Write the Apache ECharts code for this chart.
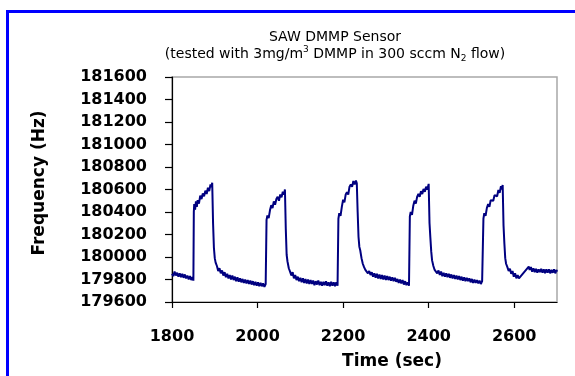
<!DOCTYPE html>
<html>
<head>
<meta charset="utf-8">
<script src="https://cdn.jsdelivr.net/npm/echarts@6/dist/echarts.min.js"></script>
<style>html,body{margin:0;padding:0;background:#fff;}#c{width:575px;height:376px;}</style>
</head>
<body>
<div id="c"></div>
<script>
const titleLine1 = 'SAW DMMP Sensor';
const titleLine2 = '(tested with 3mg/m{sup|3} DMMP in 300 sccm N{sub|2} flow)';
const xAxisName = 'Time (sec)';
const yAxisName = 'Frequency (Hz)';
const xTicks = [1800, 2000, 2200, 2400, 2600];
const yTicks = [179600, 179800, 180000, 180200, 180400, 180600, 180800, 181000, 181200, 181400, 181600];

// [time (sec), frequency (Hz)]
const baseline0 = [[1800,179850],[1803,179830],[1806,179870],[1809,179835],[1812,179860],[1815,179825],[1818,179855],[1821,179820],[1824,179850],[1827,179815],[1830,179845],[1833,179810],[1836,179835],[1839,179800],[1842,179830],[1845,179795],[1848,179820],[1850,179790]];
const pulse1 = [[1851,180400],[1852,180470],[1854,180420],[1856,180495],[1858,180445],[1860,180505],[1863,180475],[1866,180545],[1869,180515],[1872,180565],[1875,180540],[1878,180590],[1881,180560],[1884,180615],[1887,180585],[1890,180645],[1892,180620],[1894,180660]];
const decay1 = [[1896,180300],[1898,180080],[1900,179990],[1902,179950],[1905,179920],[1908,179875],[1911,179900],[1914,179855],[1917,179880],[1920,179835],[1923,179865],[1926,179820],[1929,179850],[1932,179810],[1935,179840],[1938,179800],[1941,179835],[1944,179795],[1947,179825],[1950,179785],[1953,179820],[1956,179780],[1959,179810],[1962,179775],[1965,179805],[1968,179770],[1971,179800],[1974,179765],[1977,179795],[1980,179760],[1983,179790],[1986,179755],[1989,179785],[1992,179750],[1995,179780],[1998,179745],[2001,179775],[2004,179740],[2007,179770],[2010,179740],[2013,179765],[2016,179735],[2019,179760]];
const pulse2 = [[2021,180330],[2023,180370],[2026,180345],[2029,180415],[2032,180460],[2035,180435],[2038,180495],[2041,180465],[2044,180515],[2047,180535],[2050,180500],[2053,180555],[2056,180530],[2059,180580],[2062,180555],[2064,180600]];
const decay2 = [[2066,180250],[2068,180020],[2070,179960],[2073,179900],[2076,179870],[2079,179835],[2082,179865],[2085,179810],[2088,179840],[2091,179795],[2094,179825],[2097,179785],[2100,179815],[2103,179775],[2106,179810],[2109,179770],[2112,179805],[2115,179765],[2118,179800],[2121,179760],[2124,179795],[2127,179760],[2130,179790],[2133,179750],[2136,179785],[2139,179755],[2142,179790],[2145,179750],[2148,179780],[2151,179745],[2154,179780],[2157,179750],[2160,179785],[2163,179745],[2166,179775],[2169,179740],[2172,179780],[2175,179745],[2178,179775],[2181,179740],[2184,179775],[2187,179745]];
const pulse3 = [[2189,180340],[2191,180390],[2194,180365],[2197,180445],[2200,180510],[2203,180485],[2206,180555],[2209,180575],[2212,180555],[2215,180625],[2218,180645],[2221,180625],[2224,180675],[2227,180645],[2230,180680],[2232,180655]];
const decay3 = [[2234,180400],[2236,180180],[2238,180090],[2240,180060],[2243,179990],[2246,179940],[2249,179910],[2252,179885],[2255,179870],[2258,179855],[2261,179875],[2264,179840],[2267,179865],[2270,179825],[2273,179855],[2276,179815],[2279,179850],[2282,179810],[2285,179845],[2288,179805],[2291,179840],[2294,179800],[2297,179835],[2300,179795],[2303,179830],[2306,179795],[2309,179825],[2312,179790],[2315,179820],[2318,179785],[2321,179815],[2324,179780],[2327,179805],[2330,179770],[2333,179800],[2336,179765],[2339,179795],[2342,179755],[2345,179785],[2348,179750],[2351,179775],[2354,179745]];
const pulse4 = [[2356,180360],[2358,180400],[2361,180375],[2364,180455],[2367,180500],[2370,180475],[2373,180535],[2376,180560],[2379,180535],[2382,180585],[2385,180560],[2388,180605],[2391,180580],[2394,180625],[2397,180600],[2400,180650]];
const decay4 = [[2402,180300],[2404,180170],[2406,180050],[2408,179970],[2411,179920],[2414,179885],[2417,179880],[2420,179855],[2423,179880],[2426,179840],[2429,179870],[2432,179830],[2435,179860],[2438,179825],[2441,179855],[2444,179820],[2447,179850],[2450,179815],[2453,179845],[2456,179810],[2459,179840],[2462,179805],[2465,179835],[2468,179800],[2471,179830],[2474,179795],[2477,179825],[2480,179790],[2483,179820],[2486,179785],[2489,179815],[2492,179785],[2495,179810],[2498,179775],[2501,179805],[2504,179770],[2507,179800],[2510,179770],[2513,179795],[2516,179765],[2519,179790],[2522,179760],[2525,179785]];
const pulse5 = [[2528,180340],[2530,180390],[2533,180365],[2536,180435],[2539,180470],[2542,180445],[2545,180505],[2548,180520],[2551,180500],[2554,180550],[2557,180560],[2560,180540],[2563,180595],[2566,180570],[2569,180630],[2571,180600],[2573,180640]];
const decay5 = [[2575,180280],[2577,180120],[2579,179990],[2581,179940],[2584,179910],[2587,179875],[2590,179895],[2593,179850],[2596,179875],[2599,179825],[2602,179855],[2605,179810],[2608,179840],[2611,179810],[2634,179915],[2636,179885],[2639,179910],[2642,179870],[2645,179900],[2648,179865],[2651,179895],[2654,179860],[2657,179890],[2660,179865],[2663,179895],[2666,179860],[2669,179890],[2672,179855],[2675,179890],[2678,179860],[2681,179890],[2684,179855],[2687,179885],[2690,179860],[2693,179890],[2696,179855],[2699,179885],[2700,179870]];

const seriesData = [].concat(baseline0, pulse1, decay1, pulse2, decay2, pulse3, decay3, pulse4, decay4, pulse5, decay5);

const chart = echarts.init(document.getElementById('c'), null, {renderer: 'canvas'});
const labelFont = {fontFamily: 'DejaVu Sans', fontWeight: 'bold', fontSize: 16, color: '#000'};
chart.setOption({
  animation: false,
  backgroundColor: '#fff',
  grid: {left: 172, right: 18, top: 77, bottom: 74, show: true, borderColor: '#a8a8a8', borderWidth: 1.5, backgroundColor: 'transparent'},
  xAxis: {
    type: 'value', min: 1800, max: 2700, interval: 200,
    axisLine: {show: true, onZero: false, lineStyle: {color: '#000', width: 1.2}},
    axisTick: {show: true, length: 6, lineStyle: {color: '#000', width: 1.2}},
    splitLine: {show: false},
    axisLabel: Object.assign({margin: 27, showMaxLabel: false,
      formatter: v => xTicks.includes(v) ? String(v) : ''}, labelFont)
  },
  yAxis: {
    type: 'value', min: 179600, max: 181600, interval: 200,
    axisLine: {show: true, onZero: false, lineStyle: {color: '#000', width: 1.2}},
    axisTick: {show: true, length: 7, lineStyle: {color: '#000', width: 1.2}},
    splitLine: {show: false},
    axisLabel: Object.assign({margin: 25,
      formatter: v => yTicks.includes(v) ? String(v) : ''}, labelFont)
  },
  graphic: [
    {type: 'rect', shape: {x: 7.5, y: 11.5, width: 600, height: 400}, style: {fill: 'none', stroke: '#0000ff', lineWidth: 3}, silent: true, z: 100},
    {type: 'text', x: 335, y: 37, style: {text: titleLine1, font: '14px "DejaVu Sans"', fill: '#000', align: 'center', verticalAlign: 'middle'}},
    {type: 'text', x: 335, y: 54, style: {
      text: titleLine2,
      font: '14px "DejaVu Sans"', fill: '#000', align: 'center', verticalAlign: 'middle',
      rich: {
        sup: {fontSize: 9, fontFamily: 'DejaVu Sans', verticalAlign: 'top', lineHeight: 18},
        sub: {fontSize: 9, fontFamily: 'DejaVu Sans', verticalAlign: 'bottom', lineHeight: 13}
      }
    }},
    {type: 'text', x: 392, y: 362, style: {text: xAxisName, font: 'bold 17px "DejaVu Sans"', fill: '#000', align: 'center', verticalAlign: 'middle'}},
    {type: 'text', x: 40, y: 183, rotation: Math.PI / 2, style: {text: yAxisName, font: 'bold 17px "DejaVu Sans"', fill: '#000', align: 'center', verticalAlign: 'middle'}}
  ],
  series: [{
    type: 'line', data: seriesData, showSymbol: false, symbol: 'none',
    lineStyle: {color: '#000080', width: 2}, clip: true
  }]
});
</script>
</body>
</html>
